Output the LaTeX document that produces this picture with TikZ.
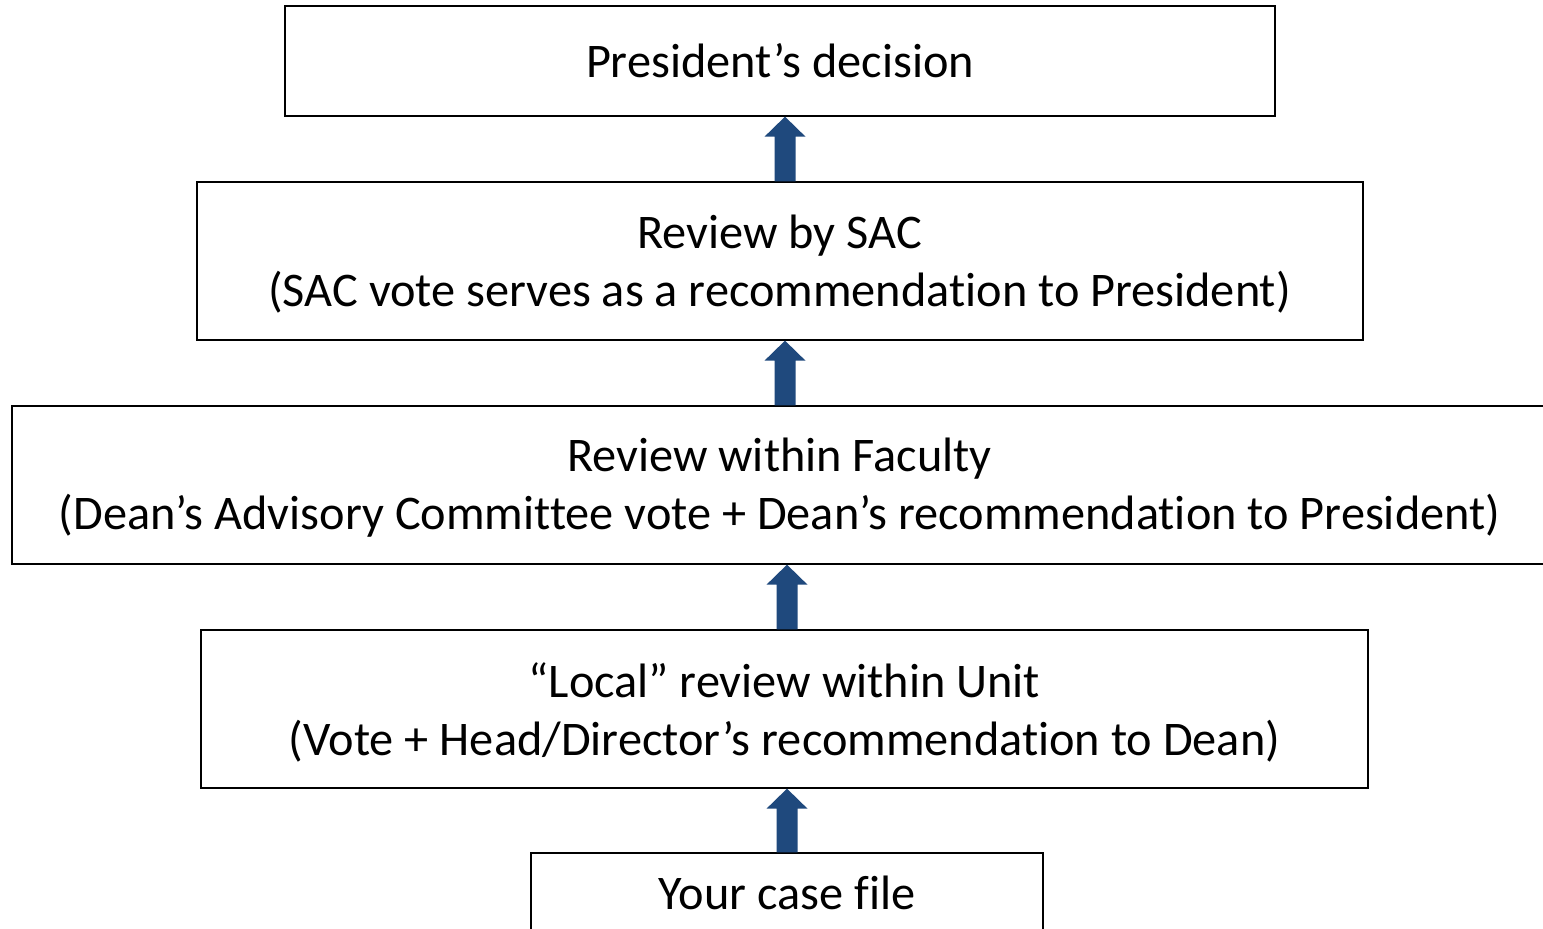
\documentclass[tikz,border=0pt]{standalone}
\usepackage{fontspec}
\setmainfont{Carlito}[Ligatures={NoCommon}]
\usetikzlibrary{calc}
\definecolor{arrblue}{HTML}{1F497D}
\tikzset{
  box/.style={draw=black, line width=1.3pt, rectangle, inner sep=0pt, align=center,
    font=\fontsize{48.3}{58}\selectfont},
  arr/.style={fill=arrblue, draw=none}
}
\newcommand\uparr[3]{%
  \fill[arr] let \p1=(#1.north), \p2=(#2.south) in
    (#3-10.5pt,\y1) -- (#3-10.5pt,\y2-20pt) -- (#3-20.5pt,\y2-20pt) -- (#3,\y2)
    -- (#3+20.5pt,\y2-20pt) -- (#3+10.5pt,\y2-20pt) -- (#3+10.5pt,\y1) -- cycle;}
\begin{document}
\begin{tikzpicture}[x=1pt,y=1pt]
\useasboundingbox (0,0) rectangle (1543,-929);
\fill[white] (0,0) rectangle (1543,-929);
\node[box, minimum width=990pt, minimum height=110pt] (b1) at (780,-61) {\raisebox{-2pt}{President’s decision}};
\node[box, minimum width=1166pt, minimum height=158pt] (b2) at (780,-261) {};
\node[align=center, inner sep=0pt, font=\fontsize{48.3}{58}\selectfont] (t2) at (779.5,-264) {Review by SAC\\(SAC vote serves as a recommendation to President)};
\node[box, minimum width=1536pt, minimum height=158pt] (b3) at (780,-485) {};
\node[align=center, inner sep=0pt, font=\fontsize{48.3}{58}\selectfont] (t3) at (779.5,-488) {Review within Faculty\\(Dean’s Advisory Committee vote + Dean’s recommendation to President)};
\node[box, minimum width=1167pt, minimum height=158pt] (b4) at (784.5,-709) {};
\node[align=center, inner sep=0pt, font=\fontsize{48.3}{58}\selectfont] (t4) at (784.5,-712) {“Local” review within Unit\\(Vote + Head/Director’s recommendation to Dean)};
\node[box, minimum width=512pt, minimum height=80pt] (b5) at (787,-893) {Your case file};
\uparr{b2}{b1}{785pt}
\uparr{b3}{b2}{785pt}
\uparr{b4}{b3}{787pt}
\uparr{b5}{b4}{787pt}
\end{tikzpicture}
\end{document}
